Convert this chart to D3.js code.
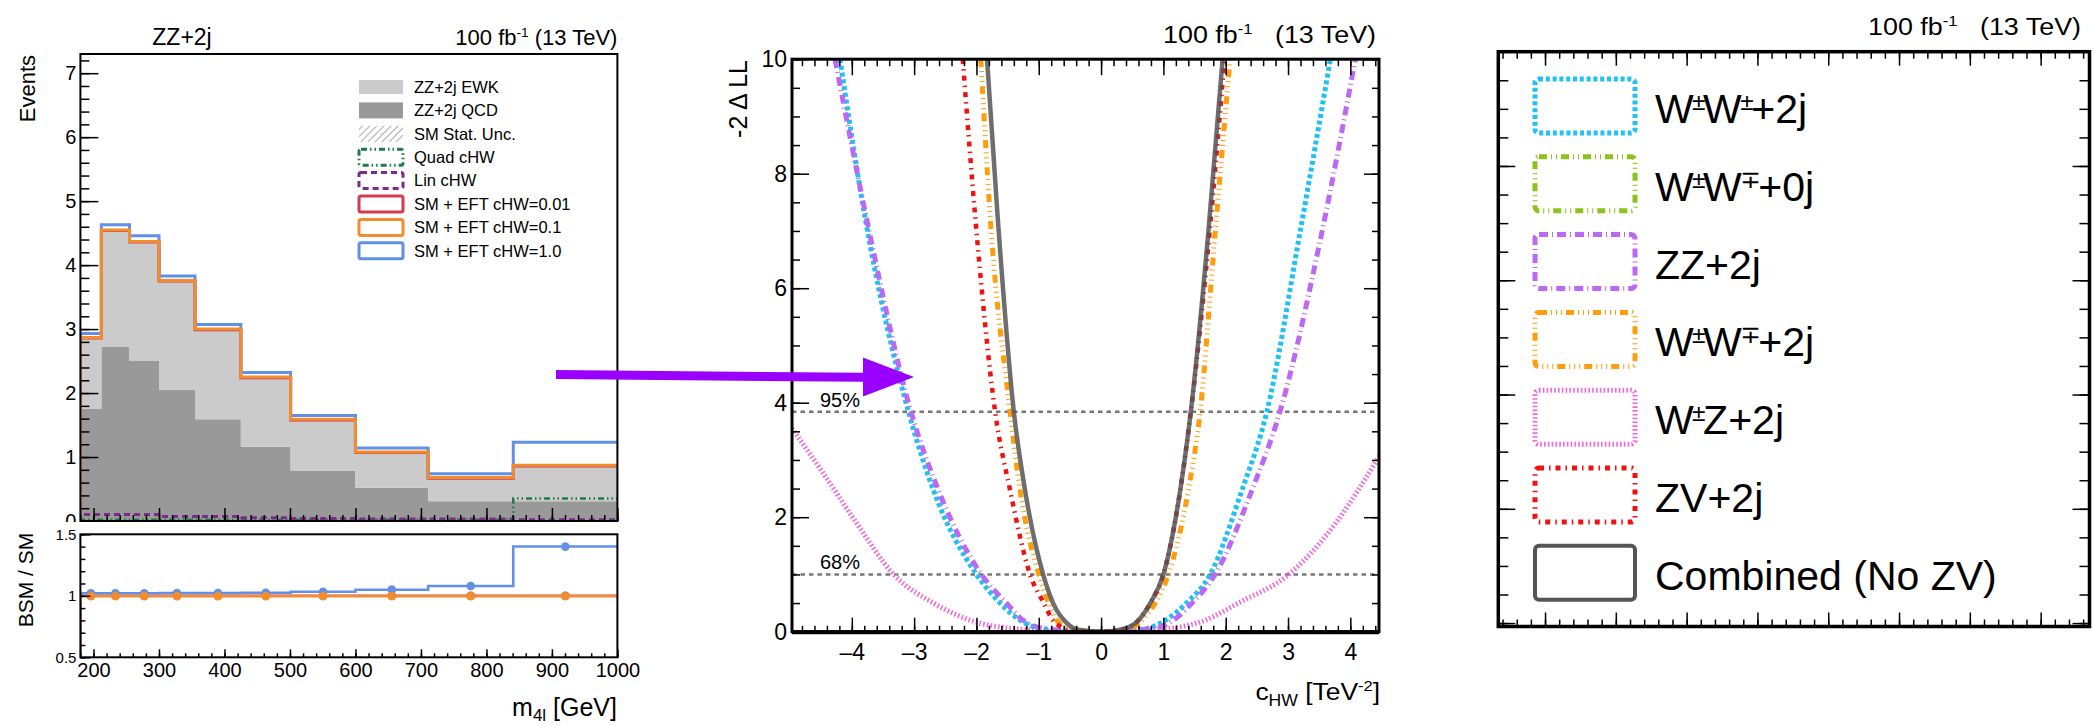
<!DOCTYPE html>
<html>
<head>
<meta charset="utf-8">
<script src="https://cdn.jsdelivr.net/npm/d3@7"></script>
<style>
  body { margin: 0; background: #fff; }
  svg text { font-family: "Liberation Sans", Arial, Helvetica, "DejaVu Sans", sans-serif; fill: #000; }
</style>
</head>
<body>
<svg id="chart" width="2095" height="726"></svg>
<script>
// ---------- left panel: ZZ+2j, m4l distribution ----------
const binEdges   = [180, 212, 255, 300, 355, 425, 501, 600, 711, 841, 1000];
const qcdEvents  = [1.76, 2.72, 2.50, 2.05, 1.59, 1.16, 0.79, 0.52, 0.31, 0.31];
const ewkEvents  = [1.09, 1.81, 1.85, 1.69, 1.39, 1.07, 0.78, 0.54, 0.35, 0.54];
const quadCHW    = [0.02, 0.02, 0.02, 0.02, 0.02, 0.02, 0.02, 0.02, 0.02, 0.35];
const linCHW     = [0.10, 0.10, 0.10, 0.07, 0.07, 0.05, 0.04, 0.03, 0.03, 0.02];
const smEft001   = [2.86, 4.54, 4.36, 3.75, 2.99, 2.24, 1.58, 1.07, 0.67, 0.86];
const smEft01    = [2.87, 4.55, 4.37, 3.76, 3.00, 2.25, 1.59, 1.08, 0.68, 0.87];
const smEft10    = [2.93, 4.63, 4.46, 3.83, 3.07, 2.32, 1.65, 1.14, 0.74, 1.23];
const ratioEft001 = [1.0, 1.0, 1.0, 1.0, 1.0, 1.0, 1.0, 1.0, 1.0, 1.0];
const ratioEft01  = [0.997, 0.997, 0.997, 0.997, 0.997, 0.997, 0.997, 0.997, 0.997, 0.997];
const ratioEft10  = [1.02, 1.02, 1.02, 1.022, 1.022, 1.025, 1.033, 1.05, 1.08, 1.40];
const histLegendLabels = ['ZZ+2j EWK', 'ZZ+2j QCD', 'SM Stat. Unc.', 'Quad cHW', 'Lin cHW',
  'SM + EFT cHW=0.01', 'SM + EFT cHW=0.1', 'SM + EFT cHW=1.0'];

// ---------- middle panel: likelihood scans [cHW, -2 dLL] ----------
const scanWpmWpm = [[-4.19,10],[-3.79,7.25],[-3.09,3.84],[-2.69,2.47],[-2.0,1.0],[-1.62,0.5],[-1.30,0.2],[-0.93,0.05],[-0.1,0],[0.71,0.05],[1.03,0.2],[1.37,0.5],[1.75,1.0],[2.26,2.47],[2.66,3.84],[3.19,6.96],[3.68,10]];
const scanZZ = [[-4.27,10],[-3.77,7.25],[-3.05,3.84],[-2.61,2.47],[-1.92,1.0],[-1.52,0.5],[-1.25,0.2],[-0.82,0.04],[-0.1,0],[0.81,0.05],[1.16,0.2],[1.46,0.5],[1.83,1.0],[2.42,2.47],[2.87,3.84],[3.54,6.96],[4.08,10]];
const scanWpmWmp2j = [[-1.93,10],[-1.78,7.25],[-1.46,3.84],[-1.30,2.47],[-1.0,1.0],[-0.84,0.5],[-0.71,0.2],[-0.44,0.03],[0.0,0],[0.44,0.04],[0.65,0.2],[0.87,0.5],[1.08,1.0],[1.40,2.47],[1.59,3.84],[1.83,6.96],[2.07,10]];
const scanWpmZ = [[-4.96,3.55],[-4.46,2.77],[-3.92,1.89],[-3.33,1.0],[-2.69,0.5],[-2.1,0.2],[-1.35,0.05],[-0.2,0],[1.0,0.05],[1.67,0.2],[2.2,0.5],[3.01,1.0],[3.76,1.89],[4.13,2.48],[4.46,3.06]];
const scanZV = [[-2.22,10],[-2.02,7.25],[-1.70,3.84],[-1.46,2.47],[-1.14,1.0],[-0.92,0.5],[-0.77,0.2],[-0.50,0.03],[-0.1,0],[0.33,0.04],[0.60,0.2],[0.79,0.5],[1.0,1.0],[1.27,2.47],[1.44,3.84],[1.74,6.96],[1.98,10]];
const scanCombined = [[-1.83,10],[-1.66,7.25],[-1.40,3.84],[-1.22,2.47],[-0.93,1.0],[-0.77,0.5],[-0.55,0.15],[-0.34,0.03],[0.0,0],[0.33,0.04],[0.60,0.2],[0.79,0.5],[1.0,1.0],[1.27,2.47],[1.44,3.84],[1.72,6.96],[1.95,10]];
const clLevels = [3.84, 1.0];
const clLabels = ['95%', '68%'];

// legend of the scans (text pieces, second item = superscript)
const scanLegendLabels = [
  [['W'],['\u00b1',1],['W'],['\u00b1',1],['+2j']],
  [['W'],['\u00b1',1],['W'],['\u2213',1],['+0j']],
  [['ZZ+2j']],
  [['W'],['\u00b1',1],['W'],['\u2213',1],['+2j']],
  [['W'],['\u00b1',1],['Z+2j']],
  [['ZV+2j']],
  [['Combined (No ZV)']]
];

// ---------- styles ----------
const C = {
  ewk: '#cbcbcb', qcd: '#999999', quad: '#1f7a4c', lin: '#7c2a8c',
  red: '#d43b50', orange: '#f28c2c', blue: '#6190e6',
  cyan: '#1fc2f2', green: '#8cc21c', purple: '#bd68f5', amber: '#ff9d0a',
  pink: '#f26ad6', zv: '#f01212', comb: '#555555', arrow: '#9a00ff'
};
const scanStyle = [
  {data: scanWpmZ,     color: C.pink,   dash: '1.6,2.2',        width: 5},
  {data: scanWpmWpm,   color: C.cyan,   dash: '4,2.8',          width: 5},
  {data: scanZZ,       color: C.purple, dash: '9,4,1,4',        width: 5},
  {data: scanWpmWmp2j, color: C.amber,  dash: '8,4,1,4,1,4,1,4', width: 5},
  {data: scanZV,       color: C.zv,     dash: '5,5,1.5,5',      width: 4.5},
  {data: scanCombined, color: C.comb,   dash: null,             width: 4.5, opacity: 0.85}
];
const scanLegendStyle = [
  {color: C.cyan,   dash: '4,2.8',            width: 5},
  {color: C.green,  dash: '8,4,1,4,1,4',      width: 5},
  {color: C.purple, dash: '9,4,1,4',          width: 5},
  {color: C.amber,  dash: '8,4,1,4,1,4,1,4',  width: 5},
  {color: C.pink,   dash: '1.6,2.2',          width: 5},
  {color: C.zv,     dash: '5,5,1.5,5',        width: 5},
  {color: C.comb,   dash: null,               width: 4}
];

const svg = d3.select('#chart');
const defs = svg.append('defs');
defs.append('pattern').attr('id', 'hatch').attr('patternUnits', 'userSpaceOnUse')
  .attr('width', 5).attr('height', 5).attr('patternTransform', 'rotate(45)')
  .append('line').attr('x1', 0).attr('y1', 0).attr('x2', 0).attr('y2', 5)
  .attr('stroke', '#777').attr('stroke-width', 1.2);

function addClip(id, x, y, w, h) {
  defs.append('clipPath').attr('id', id).append('rect')
    .attr('x', x).attr('y', y).attr('width', w).attr('height', h);
}

function ticks(g, axis, values, size, tr) {
  g.append('g').attr('transform', tr)
    .call(axis.tickValues(values).tickSize(size).tickFormat(''))
    .call(a => a.select('.domain').remove())
    .call(a => a.selectAll('line').attr('stroke', '#000').attr('stroke-width', 1.5));
}

function tickLabels(g, axis, values, pad, fs, tr, fmt) {
  const a = axis.tickValues(values).tickSize(0).tickPadding(pad).tickFormat(fmt || (d => String(d)));
  g.append('g').attr('transform', tr).call(a)
    .call(s => s.select('.domain').remove())
    .call(s => s.attr('font-family', null).attr('font-size', null))
    .call(s => s.selectAll('text').style('font-size', fs + 'px'));
}

function lumi(x, y, fs, gap, sx) {
  const t = svg.append('text').attr('text-anchor', 'end')
    .attr('transform', `translate(${x},${y}) scale(${sx},1)`).style('font-size', fs + 'px');
  t.append('tspan').text('100 fb');
  t.append('tspan').attr('dy', -fs * 0.38).style('font-size', fs * 0.62 + 'px').text('-1');
  t.append('tspan').attr('dy', fs * 0.38).attr('dx', gap).text('(13 TeV)');
}

function rich(t, segs, fs) {
  let up = false;
  segs.forEach(([s, sup]) => {
    const ts = t.append('tspan').text(s);
    if (sup) ts.style('font-size', fs * 0.6 + 'px');
    if (sup && !up) { ts.attr('dy', -fs * 0.32).attr('dx', -fs * 0.04); up = true; }
    else if (!sup && up) { ts.attr('dy', fs * 0.32).attr('dx', -fs * 0.06); up = false; }
  });
}

// =============== LEFT PANEL ===============
const hx = d3.scaleLinear().domain([180, 1000]).range([80.4, 617.4]);
const hy = d3.scaleLinear().domain([0, 7.3]).range([521, 54]);
const ry = d3.scaleLinear().domain([0.5, 1.5]).range([657.3, 534.3]);
addClip('clipTop', 80.4, 54, 537, 467);
addClip('clipRatio', 80.4, 534.3, 537, 123);

const lastEdge = binEdges.length - 1;
const stepPts = vals => [{x: binEdges[0], y: 0}]
  .concat(vals.map((v, i) => ({x: binEdges[i], y: v})))
  .concat([{x: binEdges[lastEdge], y: vals[vals.length - 1]}]);

const upperG = svg.append('g').attr('clip-path', 'url(#clipTop)');
const stackRows = qcdEvents.map((q, i) => ({qcd: q, ewk: ewkEvents[i]}));
const stacked = d3.stack().keys(['qcd', 'ewk'])(stackRows);
const stackArea = d3.area().curve(d3.curveStepAfter)
  .x(d => hx(d.x)).y0(d => hy(d.y0)).y1(d => hy(d.y1));
stacked.forEach(s => {
  const pts = s.map((d, i) => ({x: binEdges[i], y0: d[0], y1: d[1]}));
  pts.push({x: binEdges[lastEdge], y0: pts[pts.length - 1].y0, y1: pts[pts.length - 1].y1});
  upperG.append('path').attr('d', stackArea(pts)).attr('fill', s.key === 'qcd' ? C.qcd : C.ewk);
});

const hline = d3.line().curve(d3.curveStepAfter).x(d => hx(d.x)).y(d => hy(d.y));
[
  {vals: quadCHW, color: C.quad, dash: '6,3,1.5,3,1.5,3', w: 2.5},
  {vals: linCHW, color: C.lin, dash: '6,4', w: 3},
  {vals: smEft001, color: C.red, dash: null, w: 3},
  {vals: smEft10, color: C.blue, dash: null, w: 3},
  {vals: smEft01, color: C.orange, dash: null, w: 3}
].forEach(s => {
  upperG.append('path').attr('d', hline(stepPts(s.vals))).attr('fill', 'none')
    .attr('stroke', s.color).attr('stroke-width', s.w).attr('stroke-dasharray', s.dash);
});

svg.append('rect').attr('x', 80.4).attr('y', 54).attr('width', 537).attr('height', 467)
  .attr('fill', 'none').attr('stroke', '#000').attr('stroke-width', 2);
ticks(svg, d3.axisLeft(hy), d3.range(0, 7.3, 0.2), -9, 'translate(80.4,0)');
ticks(svg, d3.axisLeft(hy), d3.range(0, 8), -18, 'translate(80.4,0)');
ticks(svg, d3.axisBottom(hx), d3.range(180, 1001, 20), -6, 'translate(0,521)');
ticks(svg, d3.axisBottom(hx), d3.range(200, 1001, 100), -13, 'translate(0,521)');
tickLabels(svg, d3.axisLeft(hy), d3.range(0, 8), 4, 20, 'translate(80.4,0)');

svg.append('text').attr('x', 182).attr('y', 45).attr('text-anchor', 'middle')
  .style('font-size', '23px').text('ZZ+2j');
lumi(617.4, 45, 22, 6, 1.0);
svg.append('text').attr('transform', 'translate(35,55) rotate(-90)').attr('text-anchor', 'end')
  .style('font-size', '22px').text('Events');

// left legend
const legX = 359, legW = 44, legY0 = 87, legDy = 23.4;
const histLegendStyle = [
  {fill: C.ewk, h: 14}, {fill: C.qcd, h: 16}, {fill: 'url(#hatch)', h: 16},
  {stroke: C.quad, dash: '6,3,1.5,3,1.5,3', h: 16}, {stroke: C.lin, dash: '6,4', h: 16},
  {stroke: C.red, h: 16}, {stroke: C.orange, h: 16}, {stroke: C.blue, h: 16}
];
histLegendLabels.forEach((lab, i) => {
  const st = histLegendStyle[i], cy = legY0 + i * legDy;
  const r = svg.append('rect').attr('x', legX).attr('y', cy - st.h / 2)
    .attr('width', legW).attr('height', st.h).attr('rx', st.stroke ? 2 : 0);
  if (st.fill) r.attr('fill', st.fill);
  else r.attr('fill', 'none').attr('stroke', st.stroke).attr('stroke-width', 3)
    .attr('stroke-dasharray', st.dash || null);
  svg.append('text').attr('x', 414).attr('y', cy + 5.8).style('font-size', '16.5px').text(lab);
});

// lower pad covers the bottom of the upper pad
svg.append('rect').attr('x', 0).attr('y', 522).attr('width', 660).attr('height', 204).attr('fill', '#fff');

const lowerG = svg.append('g').attr('clip-path', 'url(#clipRatio)');
const rline = d3.line().curve(d3.curveStepAfter).x(d => hx(d.x)).y(d => ry(d.y));
const centers = binEdges.slice(0, -1).map((e, i) => (e + binEdges[i + 1]) / 2);
[
  {vals: ratioEft001, color: C.red},
  {vals: ratioEft10, color: C.blue},
  {vals: ratioEft01, color: C.orange}
].forEach(s => {
  lowerG.append('path').attr('d', rline(stepPts(s.vals))).attr('fill', 'none')
    .attr('stroke', s.color).attr('stroke-width', 2.5);
  lowerG.selectAll(null).data(s.vals).join('circle')
    .attr('cx', (d, i) => hx(centers[i])).attr('cy', d => ry(d)).attr('r', 4.3)
    .attr('fill', s.color);
});
svg.append('rect').attr('x', 80.4).attr('y', 534.3).attr('width', 537).attr('height', 123)
  .attr('fill', 'none').attr('stroke', '#000').attr('stroke-width', 2);
ticks(svg, d3.axisLeft(ry), d3.range(0.5, 1.51, 0.1), -5, 'translate(80.4,0)');
ticks(svg, d3.axisLeft(ry), [0.5, 1, 1.5], -10, 'translate(80.4,0)');
ticks(svg, d3.axisBottom(hx), d3.range(180, 1001, 20), -4, 'translate(0,657.3)');
ticks(svg, d3.axisBottom(hx), d3.range(200, 1001, 100), -8, 'translate(0,657.3)');
tickLabels(svg, d3.axisLeft(ry), [0.5, 1, 1.5], 4, 15, 'translate(80.4,0)');
tickLabels(svg, d3.axisBottom(hx), d3.range(200, 1001, 100), 5.5, 20, 'translate(0,657.3)');
svg.append('text').attr('transform', 'translate(33,580) rotate(-90)').attr('text-anchor', 'middle')
  .style('font-size', '21px').text('BSM / SM');
const m4l = svg.append('text').attr('x', 617).attr('y', 716).attr('text-anchor', 'end').style('font-size', '25px');
m4l.append('tspan').text('m');
m4l.append('tspan').attr('dy', 5).style('font-size', '17px').text('4l');
m4l.append('tspan').attr('dy', -5).text(' [GeV]');

// =============== MIDDLE PANEL ===============
const mx = d3.scaleLinear().domain([-4.96, 4.46]).range([792, 1379]);
const my = d3.scaleLinear().domain([0, 10]).range([631.7, 59.2]);
addClip('clipScan', 792, 59.2, 587, 572.5);

const scanG = svg.append('g').attr('clip-path', 'url(#clipScan)');
scanG.selectAll('.cl').data(clLevels).join('line').attr('class', 'cl')
  .attr('x1', 792).attr('x2', 1379).attr('y1', d => my(d)).attr('y2', d => my(d))
  .attr('stroke', '#777').attr('stroke-width', 2.5).attr('stroke-dasharray', '4.5,4');
const scanLine = d3.line().curve(d3.curveMonotoneX).x(d => mx(d[0])).y(d => my(d[1]));
scanStyle.forEach(s => {
  scanG.append('path').attr('d', scanLine(s.data)).attr('fill', 'none')
    .attr('stroke', s.color).attr('stroke-width', s.width)
    .attr('stroke-dasharray', s.dash).attr('opacity', s.opacity || 1);
});
svg.selectAll('.cltext').data(clLevels).join('text').attr('class', 'cltext')
  .attr('x', 820).attr('y', d => my(d) - 5).style('font-size', '20px')
  .text((d, i) => clLabels[i]);

svg.append('rect').attr('x', 792).attr('y', 59.2).attr('width', 587).attr('height', 572.5)
  .attr('fill', 'none').attr('stroke', '#000').attr('stroke-width', 3);
svg.append('line').attr('x1', 792).attr('x2', 1379).attr('y1', 632.2).attr('y2', 632.2)
  .attr('stroke', '#000').attr('stroke-width', 4);
const mxMinor = d3.range(-4.8, 4.41, 0.2), mxMajor = d3.range(-4, 5);
const myMinor = d3.range(0, 10.01, 0.5), myMajor = d3.range(0, 11, 2);
ticks(svg, d3.axisBottom(mx), mxMinor, -6, 'translate(0,631.7)');
ticks(svg, d3.axisBottom(mx), mxMajor, -14, 'translate(0,631.7)');
ticks(svg, d3.axisTop(mx), mxMinor, -7, 'translate(0,59.2)');
ticks(svg, d3.axisTop(mx), mxMajor, -16, 'translate(0,59.2)');
ticks(svg, d3.axisLeft(my), myMinor, -8, 'translate(792,0)');
ticks(svg, d3.axisLeft(my), myMajor, -17, 'translate(792,0)');
ticks(svg, d3.axisRight(my), myMinor, -7, 'translate(1379,0)');
ticks(svg, d3.axisRight(my), myMajor, -15, 'translate(1379,0)');
tickLabels(svg, d3.axisLeft(my), myMajor, 5, 23, 'translate(792,0)');
tickLabels(svg, d3.axisBottom(mx), mxMajor, 12, 23, 'translate(0,631.7)', d => d < 0 ? '\u2013' + (-d) : String(d));

lumi(1376, 42.7, 24, 20, 1.12);
svg.append('text').attr('transform', 'translate(747,60) rotate(-90)').attr('text-anchor', 'end')
  .style('font-size', '25px').text('-2 \u0394 LL');
const cLabel = svg.append('text').attr('text-anchor', 'end')
  .attr('transform', 'translate(1380,700) scale(1.1,1)').style('font-size', '24px');
cLabel.append('tspan').text('c');
cLabel.append('tspan').attr('dy', 6).style('font-size', '16px').text('HW');
cLabel.append('tspan').attr('dy', -6).text(' [TeV');
cLabel.append('tspan').attr('dy', -9).style('font-size', '15px').text('-2');
cLabel.append('tspan').attr('dy', 9).text(']');

// annotation arrow from the ZZ histogram to the scan plot
const arrowPath = 'M556,370 L863,372.8 L863,357.5 L914,377 L863,396.5 L863,381.8 L556,379 Z';
svg.append('path').attr('d', arrowPath).attr('fill', C.arrow);

// =============== RIGHT PANEL (legend) ===============
const lx = d3.scaleLinear().domain([-0.66, 7.69]).range([1498.3, 2089.5]);
const ly = d3.scaleLinear().domain([0, 5.03]).range([51.7, 626.5]);
svg.append('rect').attr('x', 1498.3).attr('y', 51.7).attr('width', 591.2).attr('height', 574.8)
  .attr('fill', 'none').attr('stroke', '#000').attr('stroke-width', 3.5);
const lxMinor = d3.range(-0.6, 7.69, 0.2), lxMajor = d3.range(0, 8);
const lyMinor = d3.range(0.25, 5.03, 0.25), lyMajor = d3.range(1, 6);
ticks(svg, d3.axisTop(lx), lxMinor, -7, 'translate(0,51.7)');
ticks(svg, d3.axisTop(lx), lxMajor, -14, 'translate(0,51.7)');
ticks(svg, d3.axisBottom(lx), lxMinor, -7, 'translate(0,626.5)');
ticks(svg, d3.axisBottom(lx), lxMajor, -14, 'translate(0,626.5)');
ticks(svg, d3.axisLeft(ly), lyMinor, -10, 'translate(1498.3,0)');
ticks(svg, d3.axisLeft(ly), lyMajor, -17, 'translate(1498.3,0)');
ticks(svg, d3.axisRight(ly), lyMinor, -10, 'translate(2089.5,0)');
ticks(svg, d3.axisRight(ly), lyMajor, -17, 'translate(2089.5,0)');
lumi(2081, 35, 24, 20, 1.12);

const boxX = 1535, boxW = 100, boxH = 54, rowY0 = 106, rowDy = 77.8;
scanLegendLabels.forEach((segs, i) => {
  const st = scanLegendStyle[i], cy = rowY0 + i * rowDy;
  svg.append('rect').attr('x', boxX).attr('y', cy - boxH / 2).attr('width', boxW).attr('height', boxH)
    .attr('rx', 4).attr('fill', 'none').attr('stroke', st.color).attr('stroke-width', st.width)
    .attr('stroke-dasharray', st.dash);
  const t = svg.append('text').attr('x', 1655).attr('y', cy + 17).style('font-size', '41px');
  rich(t, segs, 41);
});
</script>
</body>
</html>
